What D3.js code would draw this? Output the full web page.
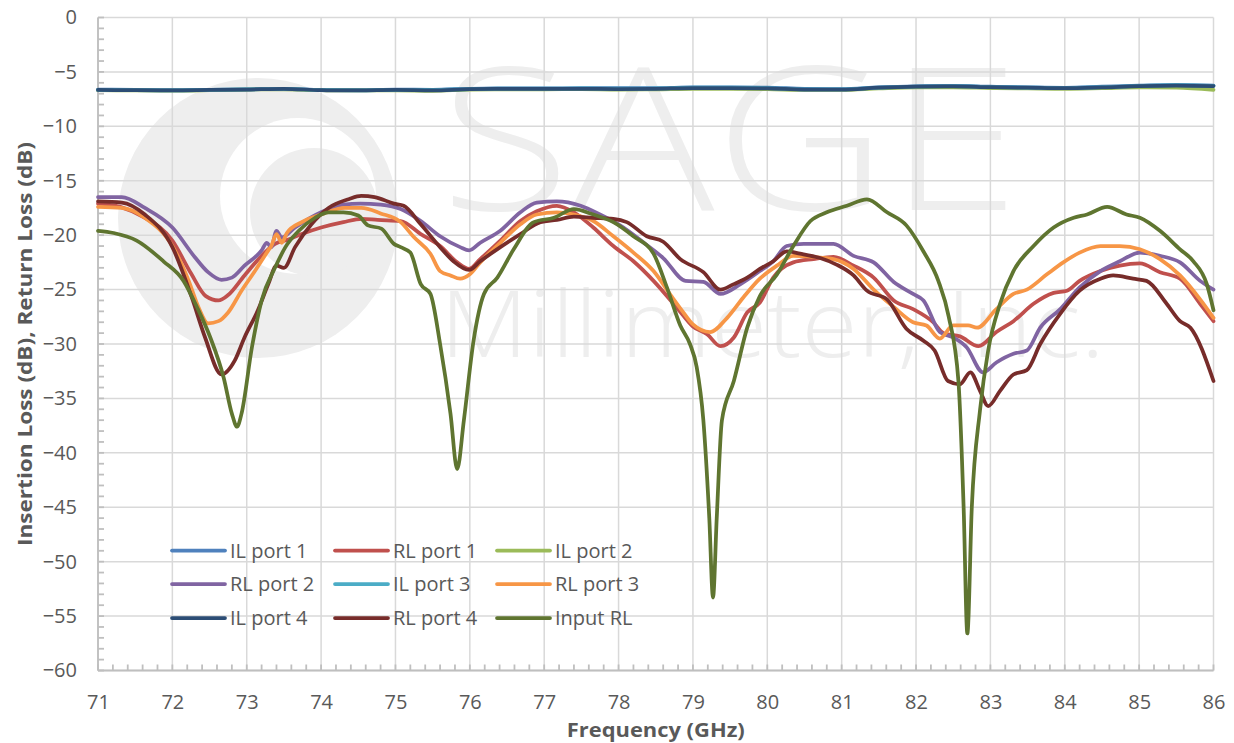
<!DOCTYPE html>
<html>
<head>
<meta charset="utf-8">
<script src="https://cdn.jsdelivr.net/npm/d3@7"></script>
<style>
  body { margin: 0; background: #fff; }
  text { font-family: "Open Sans", sans-serif; }
</style>
</head>
<body>
<svg id="chart"></svg>
<script>
// ---- data ----
const xTicks = [71, 72, 73, 74, 75, 76, 77, 78, 79, 80, 81, 82, 83, 84, 85, 86];
const yTicks = [0, -5, -10, -15, -20, -25, -30, -35, -40, -45, -50, -55, -60];

// insertion loss, sampled every 0.5 GHz
const ilFreq = [71, 71.5, 72, 72.5, 73, 73.5, 74, 74.5, 75, 75.5, 76, 76.5, 77, 77.5, 78, 78.5,
                79, 79.5, 80, 80.5, 81, 81.5, 82, 82.5, 83, 83.5, 84, 84.5, 85, 85.5, 86];
const ilPort1 = [-6.62, -6.66, -6.68, -6.64, -6.6, -6.55, -6.66, -6.68, -6.62, -6.64, -6.55, -6.52, -6.52, -6.5, -6.5, -6.5,
                 -6.42, -6.42, -6.44, -6.56, -6.58, -6.42, -6.32, -6.28, -6.36, -6.42, -6.46, -6.36, -6.26, -6.18, -6.25];
const ilPort2 = [-6.68, -6.7, -6.72, -6.68, -6.62, -6.6, -6.68, -6.7, -6.7, -6.74, -6.62, -6.6, -6.6, -6.58, -6.62, -6.6,
                 -6.55, -6.56, -6.58, -6.66, -6.66, -6.52, -6.42, -6.42, -6.48, -6.52, -6.56, -6.5, -6.42, -6.45, -6.65];
const ilPort3 = [-6.64, -6.67, -6.69, -6.65, -6.61, -6.56, -6.67, -6.69, -6.64, -6.66, -6.57, -6.54, -6.54, -6.52, -6.54, -6.52,
                 -6.44, -6.45, -6.48, -6.6, -6.6, -6.44, -6.34, -6.3, -6.38, -6.44, -6.48, -6.4, -6.28, -6.22, -6.28];
const ilPort4 = [-6.65, -6.68, -6.7, -6.66, -6.62, -6.55, -6.68, -6.7, -6.66, -6.7, -6.58, -6.56, -6.56, -6.55, -6.58, -6.55,
                 -6.48, -6.5, -6.52, -6.62, -6.62, -6.45, -6.35, -6.32, -6.4, -6.45, -6.5, -6.42, -6.3, -6.25, -6.3];

// return loss, [GHz, dB]
const rlPort1 = [[71,-17.1],[71.3,-17.4],[71.6,-18.3],[72,-20.5],[72.25,-23.5],[72.45,-25.6],[72.62,-26.0],[72.75,-25.5],
  [72.97,-23.7],[73.2,-21.9],[73.38,-20.8],[73.56,-20.4],[73.74,-19.9],[74,-19.3],[74.3,-18.8],[74.55,-18.5],[74.76,-18.6],
  [75.07,-18.7],[75.34,-19.9],[75.6,-21.0],[75.83,-22.5],[75.99,-23.1],[76.14,-22.2],[76.41,-20.5],[76.68,-18.7],[76.9,-17.8],
  [77.17,-17.3],[77.4,-17.9],[77.66,-19.3],[77.93,-21.0],[78.2,-22.4],[78.47,-24.2],[78.8,-26.8],[79.0,-28.4],[79.19,-29.1],
  [79.37,-30.2],[79.55,-29.4],[79.73,-27.1],[79.9,-26.2],[80.08,-23.9],[80.35,-22.5],[80.62,-22.2],[80.89,-22.0],[81.16,-22.8],
  [81.43,-23.9],[81.7,-26.0],[81.96,-26.8],[82.23,-28.0],[82.37,-29.0],[82.59,-29.3],[82.84,-30.2],[83.08,-28.9],[83.31,-27.9],
  [83.58,-26.3],[83.85,-25.3],[84.03,-25.1],[84.2,-24.2],[84.48,-23.3],[84.74,-22.8],[85.01,-22.6],[85.28,-23.4],[85.55,-24.0],
  [85.82,-26.3],[86,-27.9]];
const rlPort2 = [[71,-16.5],[71.32,-16.5],[71.63,-17.5],[72,-19.3],[72.3,-22.0],[72.48,-23.4],[72.66,-24.1],[72.8,-23.9],
  [72.97,-22.8],[73.2,-21.4],[73.27,-20.7],[73.33,-21.1],[73.4,-19.6],[73.47,-20.2],[73.65,-19.3],[74,-17.9],[74.3,-17.2],
  [74.53,-17.1],[74.8,-17.2],[75.07,-17.6],[75.34,-18.7],[75.6,-20.1],[75.87,-21.1],[75.99,-21.4],[76.14,-20.7],[76.41,-19.6],
  [76.68,-17.9],[76.9,-17.0],[77.17,-16.9],[77.49,-17.3],[77.75,-18.1],[78.02,-19.1],[78.34,-20.7],[78.6,-22.1],[78.9,-24.2],
  [79.14,-24.3],[79.37,-25.4],[79.64,-24.5],[79.9,-23.3],[80.08,-22.4],[80.26,-21.0],[80.49,-20.8],[80.89,-20.8],[81.16,-21.9],
  [81.43,-22.5],[81.7,-24.3],[81.96,-25.4],[82.1,-26.0],[82.32,-28.9],[82.5,-29.4],[82.68,-30.3],[82.9,-32.6],[83.08,-31.7],
  [83.31,-30.9],[83.49,-30.6],[83.67,-28.5],[83.94,-26.8],[84.2,-24.8],[84.48,-23.3],[84.74,-22.4],[85.01,-21.6],[85.28,-21.9],
  [85.55,-22.5],[85.82,-24.2],[86,-25.0]];
const rlPort3 = [[71,-17.4],[71.32,-17.5],[71.63,-18.4],[72,-21.0],[72.22,-24.2],[72.35,-26.6],[72.48,-28.1],[72.62,-27.9],
  [72.75,-27.1],[72.93,-25.1],[73.11,-23.3],[73.29,-21.4],[73.33,-21.0],[73.4,-19.9],[73.47,-20.7],[73.54,-19.8],[73.74,-18.8],
  [74,-18.1],[74.32,-17.5],[74.54,-17.5],[74.8,-18.0],[75.07,-18.8],[75.25,-20.2],[75.47,-21.7],[75.6,-23.3],[75.74,-23.7],
  [75.87,-24.0],[76,-23.6],[76.14,-22.5],[76.41,-20.7],[76.68,-19.0],[76.9,-18.1],[77.17,-17.9],[77.4,-18.1],[77.66,-18.7],
  [77.93,-20.1],[78.2,-21.6],[78.47,-23.3],[78.7,-25.5],[78.85,-26.9],[79.0,-28.2],[79.23,-28.9],[79.46,-27.6],[79.68,-25.7],
  [79.9,-24.0],[80.13,-22.8],[80.35,-21.9],[80.62,-22.0],[80.89,-22.2],[81.16,-23.1],[81.43,-25.0],[81.7,-26.6],[81.96,-28.0],
  [82.14,-28.3],[82.32,-29.5],[82.5,-28.3],[82.7,-28.3],[82.82,-28.5],[83.08,-26.8],[83.31,-25.4],[83.49,-25.0],[83.76,-23.6],
  [83.98,-22.5],[84.2,-21.6],[84.48,-21.0],[84.74,-21.0],[85.01,-21.3],[85.28,-22.2],[85.55,-23.7],[85.82,-25.9],[86,-27.6]];
const rlPort4 = [[71,-16.9],[71.32,-17.0],[71.63,-18.1],[72,-21.1],[72.26,-25.7],[72.44,-29.4],[72.66,-32.8],[72.84,-31.5],
  [72.97,-29.4],[73.15,-26.9],[73.29,-24.5],[73.4,-22.8],[73.5,-23.0],[73.65,-21.1],[73.87,-19.0],[74.1,-17.5],[74.37,-16.7],
  [74.54,-16.4],[74.72,-16.5],[74.98,-17.1],[75.11,-17.3],[75.34,-19.0],[75.6,-21.1],[75.78,-22.4],[75.99,-23.2],[76.14,-22.4],
  [76.41,-21.1],[76.68,-19.9],[76.95,-18.8],[77.17,-18.6],[77.4,-18.3],[77.66,-18.4],[77.93,-18.5],[78.11,-18.8],[78.38,-20.1],
  [78.6,-20.6],[78.83,-22.2],[79.14,-23.4],[79.37,-25.0],[79.55,-24.5],[79.73,-23.9],[79.9,-23.1],[80.08,-22.4],[80.26,-21.5],
  [80.44,-21.7],[80.71,-22.1],[80.93,-22.7],[81.16,-23.7],[81.34,-25.1],[81.61,-25.9],[81.87,-28.6],[82.1,-29.7],[82.25,-30.6],
  [82.43,-33.4],[82.59,-33.7],[82.73,-32.6],[82.86,-34.3],[82.97,-35.7],[83.13,-34.3],[83.31,-32.8],[83.49,-32.4],[83.67,-30.0],
  [83.94,-27.2],[84.2,-25.1],[84.48,-24.0],[84.65,-23.7],[84.92,-24.0],[85.1,-24.2],[85.37,-26.3],[85.55,-27.9],[85.69,-28.5],
  [86,-33.4]];
const inputRL = [[71,-19.6],[71.21,-19.8],[71.52,-20.5],[71.88,-22.4],[72.15,-24.2],[72.33,-26.6],[72.51,-29.4],[72.69,-33.1],
  [72.8,-36.4],[72.87,-37.6],[72.93,-36.4],[73.07,-30.3],[73.2,-26.0],[73.38,-23.0],[73.52,-21.1],[73.7,-19.6],[73.92,-18.4],
  [74.1,-17.9],[74.3,-17.9],[74.5,-18.2],[74.63,-19.1],[74.81,-19.4],[74.98,-20.8],[75.07,-21.1],[75.2,-21.6],[75.34,-24.5],
  [75.47,-25.4],[75.6,-30.0],[75.74,-36.4],[75.83,-41.5],[75.92,-37.0],[76.05,-29.7],[76.19,-25.4],[76.37,-23.9],[76.59,-21.3],
  [76.86,-18.8],[77.13,-18.4],[77.4,-17.6],[77.66,-18.1],[77.93,-18.8],[78.2,-20.1],[78.47,-21.7],[78.65,-24.8],[78.83,-28.3],
  [78.96,-30.0],[79.05,-32.1],[79.14,-37.0],[79.22,-46.0],[79.27,-53.3],[79.32,-46.0],[79.39,-37.0],[79.55,-33.4],[79.73,-28.5],
  [79.9,-25.6],[80.13,-23.6],[80.35,-21.0],[80.58,-18.7],[80.8,-17.9],[81.07,-17.3],[81.34,-16.7],[81.61,-17.9],[81.87,-19.1],
  [82.1,-21.5],[82.3,-24.2],[82.44,-27.5],[82.57,-33.4],[82.64,-45.0],[82.69,-56.6],[82.75,-45.0],[82.86,-36.1],[82.97,-30.6],
  [83.13,-26.3],[83.31,-23.3],[83.58,-21.0],[83.85,-19.3],[84.12,-18.4],[84.3,-18.1],[84.57,-17.4],[84.83,-18.1],[85.01,-18.4],
  [85.28,-19.6],[85.55,-21.3],[85.73,-22.4],[85.91,-24.5],[86,-26.9]];

const seriesNames = ["IL port 1", "RL port 1", "IL port 2", "RL port 2", "IL port 3", "RL port 3", "IL port 4", "RL port 4", "Input RL"];
const seriesColors = ["#4F81BD", "#C0504D", "#9BBB59", "#8064A2", "#4BACC6", "#F79646", "#2C4D75", "#772C2A", "#5F7530"];

// ---- layout ----
let width = 1234;
let height = 743;
let margin = ({top: 17.5, right: 20.5, bottom: 72.5, left: 98});

const toPairs = vals => vals.map((v, i) => [ilFreq[i], v]);
const seriesData = [toPairs(ilPort1), rlPort1, toPairs(ilPort2), rlPort2, toPairs(ilPort3), rlPort3, toPairs(ilPort4), rlPort4, inputRL];

let x = d3.scaleLinear()
    .domain([71, 86])
    .range([margin.left, width - margin.right]);

let y = d3.scaleLinear()
    .domain([-60, 0])
    .range([height - margin.bottom, margin.top]);

const svg = d3.select("#chart")
    .attr("width", width)
    .attr("height", height)
    .attr("viewBox", [0, 0, width, height]);

svg.append("rect").attr("width", width).attr("height", height).attr("fill", "#fff");

// faint company watermark behind the grid
const wm = svg.append("g").attr("fill", "#eeeeee");
wm.append("circle").attr("cx", 258).attr("cy", 218).attr("r", 140);
wm.append("circle").attr("cx", 298).attr("cy", 196).attr("r", 78).attr("fill", "#fff");
wm.append("circle").attr("cx", 314).attr("cy", 212).attr("r", 64);
wm.append("text").attr("x", 440).attr("y", 210)
    .attr("font-family", "'DejaVu Sans', sans-serif").attr("font-weight", 200)
    .attr("font-size", 200).attr("textLength", 580).attr("lengthAdjust", "spacingAndGlyphs")
    .text("SAGE");
wm.append("text").attr("x", 440).attr("y", 357)
    .attr("font-family", "'DejaVu Sans', sans-serif").attr("font-weight", 200)
    .attr("font-size", 92).attr("textLength", 665).attr("lengthAdjust", "spacingAndGlyphs")
    .text("Millimeter, Inc.");

// grid
const grid = svg.append("g").attr("stroke", "#d9d9d9").attr("stroke-width", 1.5);
grid.selectAll("line.h").data(yTicks).join("line")
    .attr("x1", margin.left).attr("x2", width - margin.right)
    .attr("y1", d => y(d)).attr("y2", d => y(d));
grid.selectAll("line.v").data(xTicks).join("line")
    .attr("y1", margin.top).attr("y2", height - margin.bottom)
    .attr("x1", d => x(d)).attr("x2", d => x(d));

// axis lines + inside minor ticks
const axisG = svg.append("g").attr("stroke", "#bfbfbf").attr("stroke-width", 1.8);
axisG.append("line")
    .attr("x1", margin.left).attr("x2", margin.left)
    .attr("y1", margin.top).attr("y2", height - margin.bottom);
axisG.append("line")
    .attr("x1", margin.left).attr("x2", width - margin.right)
    .attr("y1", height - margin.bottom).attr("y2", height - margin.bottom);
axisG.selectAll("line.ym").data(d3.range(-60, 1, 1)).join("line")
    .attr("x1", margin.left).attr("x2", margin.left + 6)
    .attr("y1", d => y(d)).attr("y2", d => y(d));
axisG.selectAll("line.xm").data(d3.range(0, 76).map(i => 71 + i * 0.2)).join("line")
    .attr("x1", d => x(d)).attr("x2", d => x(d))
    .attr("y1", height - margin.bottom).attr("y2", height - margin.bottom - 6);

// tick labels
const yAxis = g => g
    .attr("transform", `translate(${margin.left},0)`)
    .call(d3.axisLeft(y).tickValues(yTicks).tickSize(0).tickPadding(21))
    .call(g => g.select(".domain").remove());
const xAxis = g => g
    .attr("transform", `translate(0,${height - margin.bottom})`)
    .call(d3.axisBottom(x).tickValues(xTicks).tickSize(0).tickPadding(24))
    .call(g => g.select(".domain").remove());

svg.append("g").call(yAxis);
svg.append("g").call(xAxis);
svg.selectAll(".tick text")
    .attr("font-family", "'Open Sans', sans-serif")
    .attr("font-size", 20)
    .attr("fill", "#595959");

// titles
svg.append("text")
    .attr("transform", `translate(32,${(margin.top + height - margin.bottom) / 2}) rotate(-90)`)
    .attr("text-anchor", "middle")
    .attr("font-size", 20).attr("font-weight", "bold").attr("fill", "#595959")
    .attr("textLength", 404).attr("lengthAdjust", "spacingAndGlyphs")
    .text("Insertion Loss (dB), Return Loss (dB)");
svg.append("text")
    .attr("x", (margin.left + width - margin.right) / 2).attr("y", 737)
    .attr("text-anchor", "middle")
    .attr("font-size", 20).attr("font-weight", "bold").attr("fill", "#595959")
    .attr("textLength", 178).attr("lengthAdjust", "spacingAndGlyphs")
    .text("Frequency (GHz)");

// legend (3 columns, row-major, no background)
const legend = svg.append("g");
const legX = [172, 335, 497];
const legY = [550.5, 584, 618];
seriesNames.forEach((name, i) => {
    const lx = legX[i % 3], ly = legY[Math.floor(i / 3)];
    legend.append("line")
        .attr("x1", lx).attr("x2", lx + 53)
        .attr("y1", ly).attr("y2", ly)
        .attr("stroke", seriesColors[i]).attr("stroke-width", 3.75)
        .attr("stroke-linecap", "round");
    legend.append("text")
        .attr("x", lx + 58).attr("y", ly + 7)
        .attr("font-size", 20).attr("fill", "#595959")
        .text(name);
});

// series
const line = d3.line()
    .x(d => x(d[0]))
    .y(d => y(d[1]))
    .curve(d3.curveMonotoneX);

svg.append("g")
    .attr("fill", "none")
    .attr("stroke-width", 3.75)
    .attr("stroke-linejoin", "round")
    .attr("stroke-linecap", "round")
  .selectAll("path")
  .data(seriesData)
  .join("path")
    .attr("stroke", (d, i) => seriesColors[i])
    .attr("d", line);
</script>
</body>
</html>
